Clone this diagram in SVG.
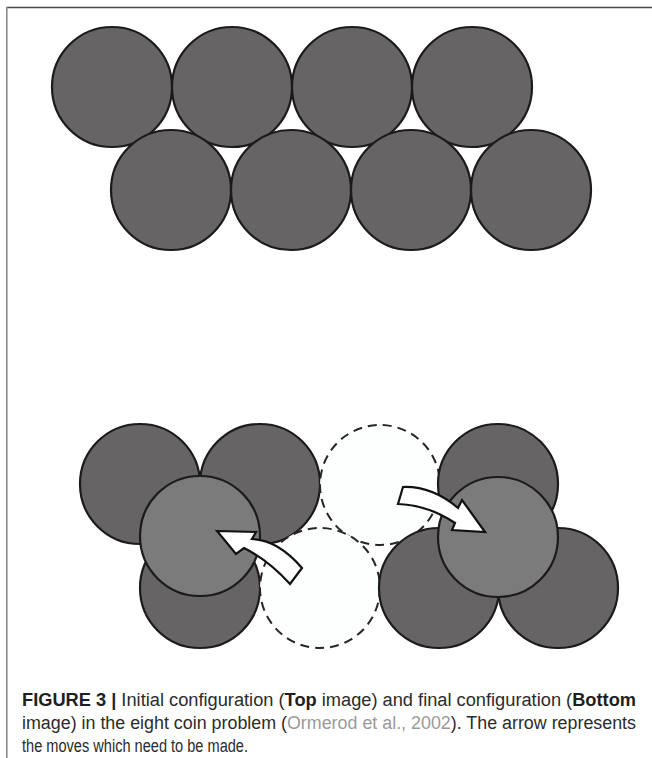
<svg xmlns="http://www.w3.org/2000/svg" width="652" height="758" viewBox="0 0 652 758">
<style>
.dark{fill:#666465;stroke:#1c1a1b;stroke-width:2.2}
.light{fill:#7b7b7b;stroke:#1c1a1b;stroke-width:2.2}
.empty{fill:#fdfefe;stroke:#262626;stroke-width:2;stroke-dasharray:9 6}
.arrow{fill:#ffffff;stroke:#111111;stroke-width:2.2;stroke-linejoin:miter}
.cap{font-family:"Liberation Sans Narrow","Liberation Sans",Arial,sans-serif;font-size:18px;fill:#2b2b2b}
.b{font-weight:bold;fill:#1f1f1f}
.ref{fill:#9a9a9a}
</style>
<rect x="0" y="0" width="652" height="758" fill="#ffffff"/>
<line x1="6" y1="7.5" x2="652" y2="7.5" stroke="#4a4a4a" stroke-width="1.6"/>
<line x1="6.8" y1="7" x2="6.8" y2="758" stroke="#8a8a8a" stroke-width="1.6"/>

<g id="top-configuration">
  <g id="coin-t1"><circle class="dark" cx="112" cy="87" r="60"/></g>
  <g id="coin-t2"><circle class="dark" cx="232" cy="87" r="60"/></g>
  <g id="coin-t3"><circle class="dark" cx="352" cy="87" r="60"/></g>
  <g id="coin-t4"><circle class="dark" cx="472" cy="87" r="60"/></g>
  <g id="coin-t5"><circle class="dark" cx="171" cy="190" r="60"/></g>
  <g id="coin-t6"><circle class="dark" cx="291" cy="190" r="60"/></g>
  <g id="coin-t7"><circle class="dark" cx="411" cy="190" r="60"/></g>
  <g id="coin-t8"><circle class="dark" cx="531" cy="190" r="60"/></g>
</g>

<g id="bottom-configuration">
  <g id="coin-b1"><circle class="dark" cx="140" cy="484" r="60"/></g>
  <g id="coin-b2"><circle class="dark" cx="260" cy="484" r="60"/></g>
  <g id="coin-b3"><circle class="dark" cx="200" cy="588" r="60"/></g>
  <g id="coin-b4"><circle class="light" cx="200" cy="536" r="60"/></g>
  <g id="empty-upper"><circle class="empty" cx="380" cy="485" r="60"/></g>
  <g id="empty-lower"><circle class="empty" cx="320" cy="588" r="60"/></g>
  <g id="coin-b5"><circle class="dark" cx="498" cy="484" r="60"/></g>
  <g id="coin-b6"><circle class="dark" cx="439" cy="588" r="60"/></g>
  <g id="coin-b7"><circle class="dark" cx="558" cy="588" r="60"/></g>
  <g id="coin-b8"><circle class="light" cx="498" cy="537" r="60"/></g>
</g>

<g id="connectors">
  <path class="arrow" d="M217,531 L256,532 L252,539 Q278,540 302,568 L290,584 Q268,560 244,548 L236,554 Z"/>
  <path class="arrow" d="M403,487 Q432,486 458,508 L462,500 L485,532 L452,530 L455,523 Q428,505 398,504 Z"/>
</g>

<g id="caption">
  <text class="cap" x="22" y="706" textLength="614" lengthAdjust="spacingAndGlyphs"><tspan class="b">FIGURE 3 |</tspan> Initial configuration (<tspan class="b">Top</tspan> image) and final configuration (<tspan class="b">Bottom</tspan></text>
  <text class="cap" x="22" y="729" textLength="614" lengthAdjust="spacingAndGlyphs">image) in the eight coin problem (<tspan class="ref">Ormerod et al., 2002</tspan>). The arrow represents</text>
  <text class="cap" x="22" y="752" textLength="226" lengthAdjust="spacingAndGlyphs">the moves which need to be made.</text>
</g>
</svg>
